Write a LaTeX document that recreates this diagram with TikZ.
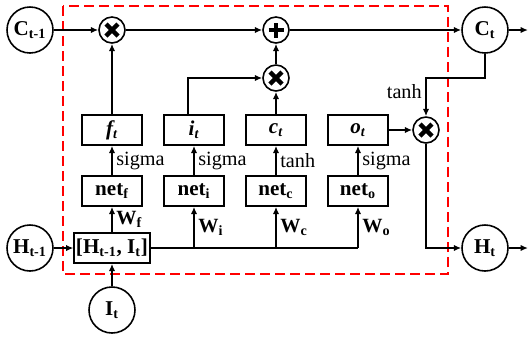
\documentclass[tikz,border=0pt]{standalone}
\usepackage{fontspec}
\setmainfont{Liberation Serif}
\usepackage{tikz}
\usetikzlibrary{positioning,arrows.meta}

\begin{document}
\begin{tikzpicture}[node distance=1.64cm, font=\fontsize{12}{14}\selectfont]
\tikzstyle{gate} = [rectangle, draw, line width=0.9pt, minimum width=1.2cm, minimum height=0.6cm, inner sep=1pt]
\tikzstyle{state} = [circle, draw, line width=0.9pt, minimum size=0.92cm, inner sep=0pt]
\tikzstyle{op} = [circle, draw, line width=0.9pt, minimum size=0.52cm, inner sep=0pt]
\tikzstyle{mulop} = [op, path picture={\draw[line width=2.6pt] (path picture bounding box.center) +(-0.12,-0.12) -- +(0.12,0.12) +(-0.12,0.12) -- +(0.12,-0.12);}]
\tikzstyle{addop} = [op, path picture={\draw[line width=2.6pt] (path picture bounding box.center) +(-0.15,0) -- +(0.15,0) +(0,-0.15) -- +(0,0.15);}]
\tikzstyle{arrow} = [line width=0.9pt,->,>={Latex[length=4.2pt,width=3.6pt]}]
\tikzstyle{lbl} = [font=\fontsize{11.5}{13}\selectfont, inner sep=2pt]

\useasboundingbox (-2.24,-4.2) rectangle (8.32,2.6);

% gates
\node (ft) [gate] {\textbf{\textit{f\textsubscript{t}}}};
\node (it) [gate, right of=ft] {\textbf{\textit{i\textsubscript{t}}}};
\node (ct) [gate, right of=it] {\textbf{\textit{c\textsubscript{t}}}};
\node (ot) [gate, right of=ct] {\textbf{\textit{o\textsubscript{t}}}};

% net inputs
\node (netf) [gate, below of=ft, node distance=1.22cm] {\textbf{net\textsubscript{f}}};
\node (neti) [gate, below of=it, node distance=1.22cm] {\textbf{net\textsubscript{i}}};
\node (netc) [gate, below of=ct, node distance=1.22cm] {\textbf{net\textsubscript{c}}};
\node (neto) [gate, below of=ot, node distance=1.22cm] {\textbf{net\textsubscript{o}}};

\node (cat) [gate, minimum width=1.4cm, below of=netf, node distance=1.14cm] {\textbf{[H\textsubscript{t-1}, I\textsubscript{t}]}};
\node (hprev) [state, left of=cat] {\textbf{H\textsubscript{t-1}}};
\node (xin) [state, below of=cat, node distance=1.24cm] {\textbf{I\textsubscript{t}}};

% cell state
\node (fx) [mulop, above of=ft, node distance=2cm] {};
\node (cprev) [state, left of=fx] {\textbf{C\textsubscript{t-1}}};
\node (ix) [mulop, above of=ct, node distance=1.04cm] {};
\node (add) [addop, above of=ct, node distance=2cm] {};
\node (ox) [mulop, right of=ot, node distance=1.36cm] {};
\node (cnext) [state, right of=add, node distance=4.18cm] {\textbf{C\textsubscript{t}}};
\node (hnext) [state] at (cnext |- cat) {\textbf{H\textsubscript{t}}};
\node (cout) [coordinate, right of=cnext, node distance=0.86cm] {};
\node (hout) [coordinate, right of=hnext, node distance=0.86cm] {};

\draw [red, line width=1.1pt, dash pattern=on 0.2cm off 0.1cm] (-0.98,2.48) rectangle (6.72,-2.88);

\draw [arrow] (cprev) -- (fx);
\draw [arrow] (fx) -- (add);
\draw [arrow] (add) -- (cnext);
\draw [arrow] (cnext) -- (cout);
\draw [arrow] (ft) -- (fx);
\draw [arrow] ([xshift=-0.12cm]it.north) |- (ix);
\draw [arrow] (ct) -- (ix);
\draw [arrow] (ix) -- (add);
\draw [arrow] (ot) -- (ox);
\draw [arrow] (cnext.south) -- (cnext |- ix) -| node[lbl, pos=0.68, left] {tanh} (ox);
\draw [arrow] (ox) |- (hnext);
\draw [arrow] (hnext) -- (hout);

\draw [arrow] (hprev) -- (cat);
\draw [arrow] (xin) -- (cat);
\coordinate (bi) at (cat -| neti);
\coordinate (bc) at (cat -| netc);
\coordinate (bo) at (cat -| neto);
\draw [line width=0.9pt] (cat.east) -- (bo);

\draw [arrow] (cat) -- node[lbl, right] {\textbf{W\textsubscript{f}}} (netf);
\draw [arrow] (bi) -- node[lbl, right] {\textbf{W\textsubscript{i}}} (neti);
\draw [arrow] (bc) -- node[lbl, right] {\textbf{W\textsubscript{c}}} (netc);
\draw [arrow] (bo) -- node[lbl, right] {\textbf{W\textsubscript{o}}} (neto);

\draw [arrow] (netf) -- node[lbl, right] {sigma} (ft);
\draw [arrow] (neti) -- node[lbl, right] {sigma} (it);
\draw [arrow] (netc) -- node[lbl, right] {tanh} (ct);
\draw [arrow] (neto) -- node[lbl, right] {sigma} (ot);

\end{tikzpicture}
\end{document}
